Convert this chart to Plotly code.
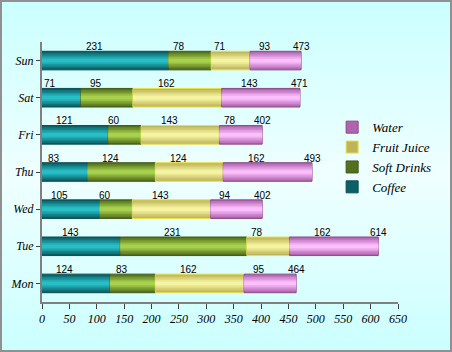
import base64, struct, zlib
import plotly.graph_objects as go

days = ["Mon", "Tue", "Wed", "Thu", "Fri", "Sat", "Sun"]
series_names = ["Coffee", "Soft Drinks", "Fruit Juice", "Water"]
coffee = [124, 143, 105, 83, 121, 71, 231]
soft_drinks = [83, 231, 60, 124, 60, 95, 78]
fruit_juice = [162, 78, 143, 124, 143, 162, 71]
water = [95, 162, 94, 162, 78, 143, 93]
x_ticks = list(range(0, 651, 50))

series_values = [coffee, soft_drinks, fruit_juice, water]
# (edge colour, centre colour, outline)
palette = [
    ((10, 96, 102), (40, 190, 198), "#0b4c52"),
    ((84, 112, 28), (168, 210, 78), "#40581a"),
    ((190, 180, 92), (246, 244, 160), "#e8e040"),
    ((176, 100, 176), (252, 190, 252), "#8a4a86"),
]


def mix(a, b, t):
    return "rgb(%d,%d,%d)" % tuple(int(a[k] + (b[k] - a[k]) * t) for k in range(3))


def gradient_png(w, h):
    rows = b""
    for j in range(h):
        t = j / (h - 1)
        k = 1 - abs(t - 0.5) * 2
        r = int(204 + (240 - 204) * k)
        rows += b"\x00" + bytes([r, 255, 255]) * w
    def chunk(tag, data):
        c = struct.pack(">I", len(data)) + tag + data
        return c + struct.pack(">I", zlib.crc32(tag + data) & 0xffffffff)
    png = b"\x89PNG\r\n\x1a\n"
    png += chunk(b"IHDR", struct.pack(">IIBBBBB", w, h, 8, 2, 0, 0, 0))
    png += chunk(b"IDAT", zlib.compress(rows))
    png += chunk(b"IEND", b"")
    return "data:image/png;base64," + base64.b64encode(png).decode()


layer_widths = [0.5, 0.42, 0.34, 0.26, 0.18, 0.1]
fig = go.Figure()
bases = [0] * len(days)
annotations = []
lab_font = dict(family="Liberation Sans, Arial, sans-serif", size=10, color="black")
for idx, (name, vals, (edge, centre, outline)) in enumerate(zip(series_names, series_values, palette)):
    b = list(bases)
    for li, w in enumerate(layer_widths):
        t = li / (len(layer_widths) - 1)
        first = li == 0
        fig.add_trace(go.Bar(
            y=days, x=vals, base=b, orientation="h", name=name, width=w,
            marker=dict(color=mix(edge, centre, t),
                        line=dict(color=outline, width=1 if first else 0)),
            showlegend=first, legendrank=100 - idx,
            hoverinfo=None if first else "skip",
        ))
    for i, v in enumerate(vals):
        annotations.append(dict(
            x=b[i] + v / 2, y=days[i], text=str(v), showarrow=False,
            xshift=-11, yshift=14, font=lab_font,
        ))
        bases[i] += v

for i, tot in enumerate(bases):
    annotations.append(dict(
        x=tot, y=days[i], text=str(tot), showarrow=False,
        yshift=14, font=lab_font,
    ))

serif = "Liberation Serif, Times New Roman, serif"
fig.update_layout(
    width=452, height=352,
    margin=dict(l=42, r=54, t=42, b=50, autoexpand=False),
    barmode="overlay",
    paper_bgcolor="#d6ffff",
    plot_bgcolor="rgba(0,0,0,0)",
    showlegend=True,
    legend=dict(
        x=0.815, y=0.73, xanchor="left", yanchor="top",
        bgcolor="rgba(0,0,0,0)", traceorder="normal",
        font=dict(family=serif, size=13, style="italic", color="black"),
        itemwidth=30, tracegroupgap=0,
    ),
    annotations=annotations,
    images=[dict(source=gradient_png(4, 64), xref="paper", yref="paper",
                 x=-42 / 356, y=1 + 42 / 260, sizex=452 / 356, sizey=352 / 260,
                 sizing="stretch", layer="below", xanchor="left", yanchor="top")],
    shapes=[dict(type="rect", xref="paper", yref="paper",
                 x0=-41 / 356, x1=1 + 53 / 356, y0=-49 / 260, y1=1 + 41 / 260,
                 line=dict(color="#909090", width=2))],
)
fig.update_xaxes(
    range=[0, 650], tickvals=x_ticks, ticktext=[str(t) for t in x_ticks],
    showgrid=False, zeroline=False, showline=True, linecolor="#808080", linewidth=2,
    ticks="outside", ticklen=5, tickcolor="#404040",
    tickfont=dict(family=serif, size=12, style="italic", color="black"),
)
fig.update_yaxes(
    categoryorder="array", categoryarray=days, range=[-0.5, 6.5],
    showgrid=False, zeroline=False, showline=True, linecolor="#808080", linewidth=2,
    ticks="outside", ticklen=4, tickcolor="#404040",
    tickfont=dict(family=serif, size=12, style="italic", color="black"),
)
fig.write_html("out.html")
